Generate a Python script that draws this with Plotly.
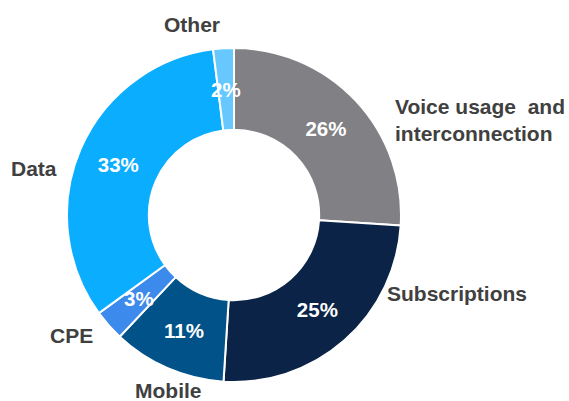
import math
import plotly.graph_objects as go

categories = ["Voice usage  and<br>interconnection", "Subscriptions", "Mobile", "CPE", "Data", "Other"]
values = [26, 25, 11, 3, 33, 2]
colors = ["#808085", "#0A2346", "#005288", "#3C8AEB", "#0BADFE", "#66C8FF"]

W, H = 569, 401
FONT = "Arial, Liberation Sans, sans-serif"
CX, CY, R_OUT, HOLE = 234, 215, 167, 0.51

# big slices: library places the text; tiny slices: label placed at slice mid-angle
inside_text = [f"<b>{v}%</b>" if v >= 5 else "" for v in values]

fig = go.Figure(go.Pie(
    labels=categories,
    values=values,
    text=inside_text,
    textinfo="text",
    sort=False,
    direction="clockwise",
    rotation=0,
    hole=HOLE,
    marker=dict(colors=colors, line=dict(color="white", width=2)),
    textposition="inside",
    insidetextorientation="horizontal",
    textfont=dict(family=FONT, size=20.5, color="white"),
    domain=dict(x=[(CX - R_OUT) / W, (CX + R_OUT) / W],
                y=[1 - (CY + R_OUT) / H, 1 - (CY - R_OUT) / H]),
    showlegend=False,
    hoverinfo="label+value",
))

total = sum(values)
r_mid = R_OUT * (1 + HOLE) / 2
cum = 0
for v in values:
    if v < 5:
        th = 2 * math.pi * (cum + v / 2) / total
        px = CX + r_mid * math.sin(th)
        py = CY - r_mid * math.cos(th)
        fig.add_annotation(
            x=px / W, y=1 - py / H, xref="paper", yref="paper",
            text=f"<b>{v}%</b>", showarrow=False,
            xanchor="center", yanchor="middle",
            font=dict(family=FONT, size=20.5, color="white"),
        )
    cum += v

# outside category labels (pixel positions of text anchors)
label_pos = [
    (393, 120, "left"),
    (385, 293, "left"),
    (168, 390, "center"),
    (71, 335, "center"),
    (34, 168, "center"),
    (192, 24, "center"),
]
for lab, (px, py, anc) in zip(categories, label_pos):
    fig.add_annotation(
        x=px / W, y=1 - py / H, xref="paper", yref="paper",
        text=f"<b>{lab}</b>", showarrow=False,
        xanchor=anc, yanchor="middle", align="left",
        font=dict(family=FONT, size=21, color="#404040"),
    )

fig.update_layout(
    width=W, height=H,
    margin=dict(l=0, r=0, t=0, b=0),
    paper_bgcolor="white", plot_bgcolor="white",
    font=dict(family=FONT),
)

fig.write_html("out.html", config={"displayModeBar": False},
               post_script="document.body.style.margin='0';")
